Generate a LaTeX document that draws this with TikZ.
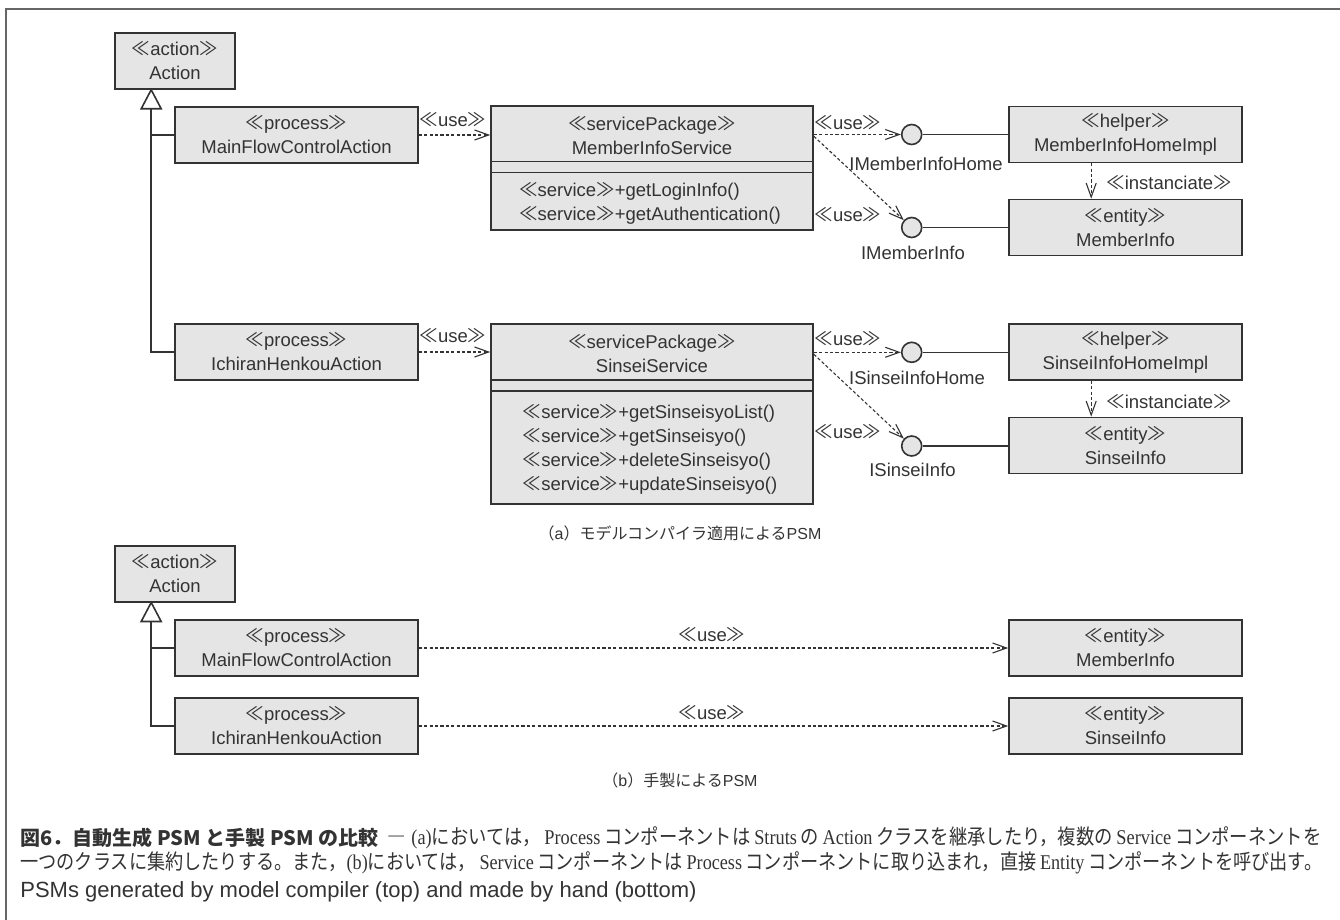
\documentclass[tikz,border=0pt]{standalone}
\usepackage{fontspec}
\usepackage{graphicx}
\setmainfont{Liberation Sans}
\newfontfamily\jp{Noto Sans CJK JP}
\newfontfamily\serif{Liberation Serif}
\usetikzlibrary{arrows.meta,calc}
\definecolor{ink}{HTML}{333333}
\definecolor{boxfill}{HTML}{E5E5E5}
% stereotype in guillemets
\newcommand{\stereo}[1]{{\jp ≪}#1{\jp ≫}}
% Latin word set in serif inside Japanese running text
\newcommand{\lat}[1]{\hspace{0.2em}{\serif #1}\hspace{0.2em}}
\tikzset{
  umlbox/.style 2 args={draw=ink, fill=boxfill, line width=0.8pt, inner sep=0pt,
     minimum width=#1*0.5pt, minimum height=#2*0.5pt, align=center},
  iface/.style={circle, draw=ink, fill=boxfill, line width=0.8pt,
     minimum size=10pt, inner sep=0pt},
  dep/.style={draw=ink, line width=0.55pt, dash pattern=on 1.6pt off 1.1pt,
     -{Straight Barb[length=7pt,width=5pt]}},
  assoc/.style={draw=ink, line width=0.8pt},
  gen/.style={draw=ink, fill=white, line width=0.8pt, line join=miter},
  lbl/.style={inner sep=0pt, text=ink},
  frame/.style={draw=black!60, line width=0.7pt},
}
\begin{document}
\begin{tikzpicture}[x=0.5pt,y=-0.5pt,font=\fontsize{9.25}{12}\selectfont,text=ink]
\useasboundingbox (0,0) rectangle (1340,920);
\draw[frame] (6,920) -- (6,9) -- (1340,9);

% ---------- (a) generated PSM ----------
\node[umlbox={120}{56}] (actA) at (175,61) {\stereo{action}\\Action};
\node[umlbox={243}{56}] (mfA) at (296.5,135) {\stereo{process}\\MainFlowControlAction};
\node[umlbox={243}{56}] (ihA) at (296.5,352) {\stereo{process}\\IchiranHenkouAction};

% inheritance from Action
\coordinate (gA) at ($(actA.south west)+(37,0)$);
\coordinate (gAb) at ($(gA)+(0,19)$);
\draw[assoc] (gAb) |- (ihA.west);
\draw[assoc] (mfA.west) -- (mfA.west -| gAb);
\draw[gen] (gA) -- ($(gA)+(-10,19)$) -- ($(gA)+(10,19)$) -- cycle;

% service package MemberInfoService
\node[umlbox={322}{124}] (misvc) at (652,168) {};
\draw[assoc] ($(misvc.north west)+(0,56.5)$) -- ($(misvc.north east)+(0,56.5)$);
\draw[assoc] ($(misvc.north west)+(0,67.5)$) -- ($(misvc.north east)+(0,67.5)$);
\node[lbl,align=center] (mihead) at (652,135.5) {\stereo{servicePackage}\\MemberInfoService};
\node[lbl,align=left] (miops) at (650,203) {\stereo{service}+getLoginInfo()\\\stereo{service}+getAuthentication()};

% service package SinseiService
\node[umlbox={322}{180}] (sisvc) at (652,414) {};
\draw[assoc] ($(sisvc.north west)+(0,56.5)$) -- ($(sisvc.north east)+(0,56.5)$);
\draw[assoc] ($(sisvc.north west)+(0,67.5)$) -- ($(sisvc.north east)+(0,67.5)$);
\node[lbl,align=center] (sihead) at (652,353.5) {\stereo{servicePackage}\\SinseiService};
\node[lbl,align=left] (siops) at (650,449) {\stereo{service}+getSinseisyoList()\\\stereo{service}+getSinseisyo()\\\stereo{service}+deleteSinseisyo()\\\stereo{service}+updateSinseisyo()};

% interfaces, helpers and entities
\node[iface] (ifMIH) at (911.7,134.5) {};
\node[iface] (ifMI) at (911.7,227.5) {};
\node[iface] (ifSIH) at (911.7,352.3) {};
\node[iface] (ifSI) at (911.7,446) {};
\node[lbl] (tMIH) at (926,164) {IMemberInfoHome};
\node[lbl] (tMI) at (913,253) {IMemberInfo};
\node[lbl] (tSIH) at (917,377.5) {ISinseiInfoHome};
\node[lbl] (tSI) at (912.5,470) {ISinseiInfo};

\node[umlbox={233}{56}] (hlpM) at (1125.5,134.5) {\stereo{helper}\\MemberInfoHomeImpl};
\node[umlbox={233}{56}] (entM) at (1125.5,227.5) {\stereo{entity}\\MemberInfo};
\node[umlbox={233}{56}] (hlpS) at (1125.5,352) {\stereo{helper}\\SinseiInfoHomeImpl};
\node[umlbox={233}{56}] (entS) at (1125.5,445.5) {\stereo{entity}\\SinseiInfo};

\draw[assoc] (ifMIH) -- (hlpM.west |- ifMIH);
\draw[assoc] (ifMI) -- (entM.west |- ifMI);
\draw[assoc] (ifSIH) -- (hlpS.west |- ifSIH);
\draw[assoc] (ifSI) -- (entS.west |- ifSI);

% dependencies
\draw[dep] (mfA.east) -- (mfA.east -| misvc.west);
\node[lbl] at (453,120) {\stereo{use}};
\draw[dep] (ihA.east) -- (ihA.east -| sisvc.west);
\node[lbl] at (453,336) {\stereo{use}};

\draw[dep] (misvc.east |- ifMIH) -- (ifMIH);
\node[lbl] at (848,123) {\stereo{use}};
\coordinate (dMI) at ($(misvc.north east)+(0,31)$);
\draw[dep] (dMI) -- (ifMI);
\node[lbl] at (848,215) {\stereo{use}};

\draw[dep] (sisvc.east |- ifSIH) -- (ifSIH);
\node[lbl] at (848,339) {\stereo{use}};
\coordinate (dSI) at ($(sisvc.north east)+(0,31)$);
\draw[dep] (dSI) -- (ifSI);
\node[lbl] at (848,431.5) {\stereo{use}};

\coordinate (iM1) at ($(hlpM.south west)+(83,0)$);
\coordinate (iM2) at ($(entM.north west)+(83,0)$);
\draw[dep] (iM1) -- (iM2);
\node[lbl] at (1169,182.5) {\stereo{instanciate}};
\coordinate (iS1) at ($(hlpS.south west)+(83,0)$);
\coordinate (iS2) at ($(entS.north west)+(83,0)$);
\draw[dep] (iS1) -- (iS2);
\node[lbl] at (1169,401.5) {\stereo{instanciate}};

\node[lbl] (capA) at (680,533) {\fontsize{8}{10}\selectfont {\jp （}a{\jp ）モデルコンパイラ適用による}PSM};

% ---------- (b) hand-made PSM ----------
\node[umlbox={120}{56}] (actB) at (175,573.7) {\stereo{action}\\Action};
\node[umlbox={243}{56}] (mfB) at (296.5,648) {\stereo{process}\\MainFlowControlAction};
\node[umlbox={243}{56}] (ihB) at (296.5,726) {\stereo{process}\\IchiranHenkouAction};
\node[umlbox={233}{56}] (entMB) at (1125.5,648) {\stereo{entity}\\MemberInfo};
\node[umlbox={233}{56}] (entSB) at (1125.5,726) {\stereo{entity}\\SinseiInfo};

\coordinate (gB) at ($(actB.south west)+(37,0)$);
\coordinate (gBb) at ($(gB)+(0,19)$);
\draw[assoc] (gBb) |- (ihB.west);
\draw[assoc] (mfB.west) -- (mfB.west -| gBb);
\draw[gen] (gB) -- ($(gB)+(-10,19)$) -- ($(gB)+(10,19)$) -- cycle;

\draw[dep] (mfB.east) -- (entMB.west);
\node[lbl] at (712,635) {\stereo{use}};
\draw[dep] (ihB.east) -- (entSB.west);
\node[lbl] at (712,712.5) {\stereo{use}};

\node[lbl] (capB) at (680,780) {\fontsize{8}{10}\selectfont {\jp （}b{\jp ）手製による}PSM};

% ---------- figure caption ----------
\node[lbl,anchor=west] (cap1t) at (20,838) {\fontsize{10}{12}\selectfont\jp\bfseries 図6．自動生成 PSM と手製 PSM の比較};
\node[lbl,anchor=east] (cap1) at (1322,838) {\resizebox{467pt}{\height}{\fontsize{10.5}{12}\selectfont
  {\jp ―}\hspace{0.3em}{\serif (a)}{\jp においては，}\lat{Process}{\jp コンポーネントは}\lat{Struts}{\jp の}\lat{Action}{\jp クラスを継承したり，複数の}\lat{Service}{\jp コンポーネントを}}};
\node[lbl,anchor=west] (cap2) at (20,863) {\resizebox{651pt}{\height}{\fontsize{10.5}{12}\selectfont
  {\jp 一つのクラスに集約したりする。また，}{\serif (b)}{\jp においては，}\lat{Service}{\jp コンポーネントは}\lat{Process}{\jp コンポーネントに取り込まれ，直接}\lat{Entity}{\jp コンポーネントを呼び出す。}}};
\node[lbl,anchor=west] (cap3) at (20,892) {\fontsize{11}{13}\selectfont PSMs generated by model compiler (top) and made by hand (bottom)};
\end{tikzpicture}
\end{document}
